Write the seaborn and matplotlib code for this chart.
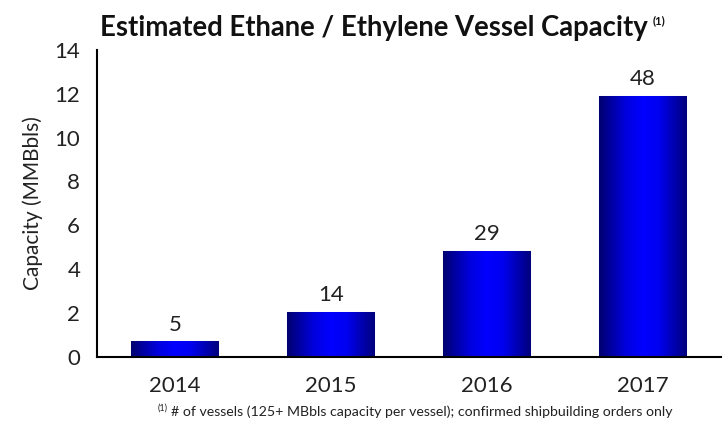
import numpy as np
import pandas as pd
import matplotlib
matplotlib.use("Agg")
import matplotlib.pyplot as plt
import seaborn as sns
from matplotlib.colors import LinearSegmentedColormap

years     = ["2014", "2015", "2016", "2017"]
capacity  = [0.72, 2.05, 4.85, 11.9]
vessels   = ["5", "14", "29", "48"]

sns.set_style("white")
plt.rcParams["font.family"] = ["Lato", "DejaVu Sans"]

df = pd.DataFrame({"year": years, "capacity": capacity})

fig = plt.figure(figsize=(7.28, 4.30), dpi=100)
ax = fig.add_axes([0.133, 0.170, 0.857, 0.714])

sns.barplot(data=df, x="year", y="capacity", color="#0000ff", width=0.56,
            edgecolor="#b8b8e8", linewidth=0.8, ax=ax)

# cylinder-like gradient on each bar
grad = LinearSegmentedColormap.from_list(
    "bar", [(0.0, "#000070"), (0.3, "#0000dc"), (0.5, "#0000ff"),
            (0.68, "#0000f0"), (1.0, "#00007c")])
strip = np.linspace(0, 1, 256).reshape(1, -1)
for patch in ax.patches:
    x0, y0 = patch.get_x(), patch.get_y()
    w, h = patch.get_width(), patch.get_height()
    img = ax.imshow(strip, cmap=grad, aspect="auto",
                    extent=[x0, x0 + w, y0, y0 + h], zorder=patch.get_zorder() + 0.1)
    img.set_clip_path(patch)

for i, (cap, lab) in enumerate(zip(capacity, vessels)):
    ax.text(i, cap + 0.3, lab, ha="center", va="bottom", fontsize=16, color="#222222")

ax.set_xlim(-0.5, 3.5)
ax.set_ylim(0, 14)
ax.set_yticks(range(0, 15, 2))
ax.set_xlabel("")
ax.set_ylabel("Capacity (MMBbls)", fontsize=15, color="#222222", labelpad=8)

ax.set_xticks(range(4))
ax.set_xticklabels(years)
ax.set_xticks(np.arange(-0.5, 4.0, 1.0), minor=True)
ax.tick_params(axis="x", which="major", length=0, pad=14, labelsize=16, colors="#222222")
ax.tick_params(axis="x", which="minor", length=8, width=1.3, direction="out", color="black")
ax.tick_params(axis="y", length=8, width=1.3, direction="out", labelsize=16,
               colors="#222222", pad=4)
ax.tick_params(axis="y", color="black")

sns.despine(ax=ax)
for side in ["left", "bottom"]:
    ax.spines[side].set_color("black")
    ax.spines[side].set_linewidth(1.5)

# title and footnote, each with a "(1)" superscript placed next to the text
renderer = fig.canvas.get_renderer()
title = fig.text(0.137, 0.935, "Estimated Ethane / Ethylene Vessel Capacity",
                 ha="left", va="center", fontsize=19.8, fontweight="bold", color="#111111")
tb = title.get_window_extent(renderer)
fig.text((tb.x1 + 5) / fig.bbox.width, 0.952, "(1)", ha="left", va="center",
         fontsize=8, fontweight="bold", color="#111111")

sup = fig.text(0.217, 0.052, "(1)", ha="left", va="center", fontsize=6.5, color="#222222")
sb = sup.get_window_extent(renderer)
fig.text((sb.x1 + 3) / fig.bbox.width, 0.043,
         "# of vessels (125+ MBbls capacity per vessel); confirmed shipbuilding orders only",
         ha="left", va="center", fontsize=10.2, color="#222222")

fig.savefig("out.png", dpi=100)
